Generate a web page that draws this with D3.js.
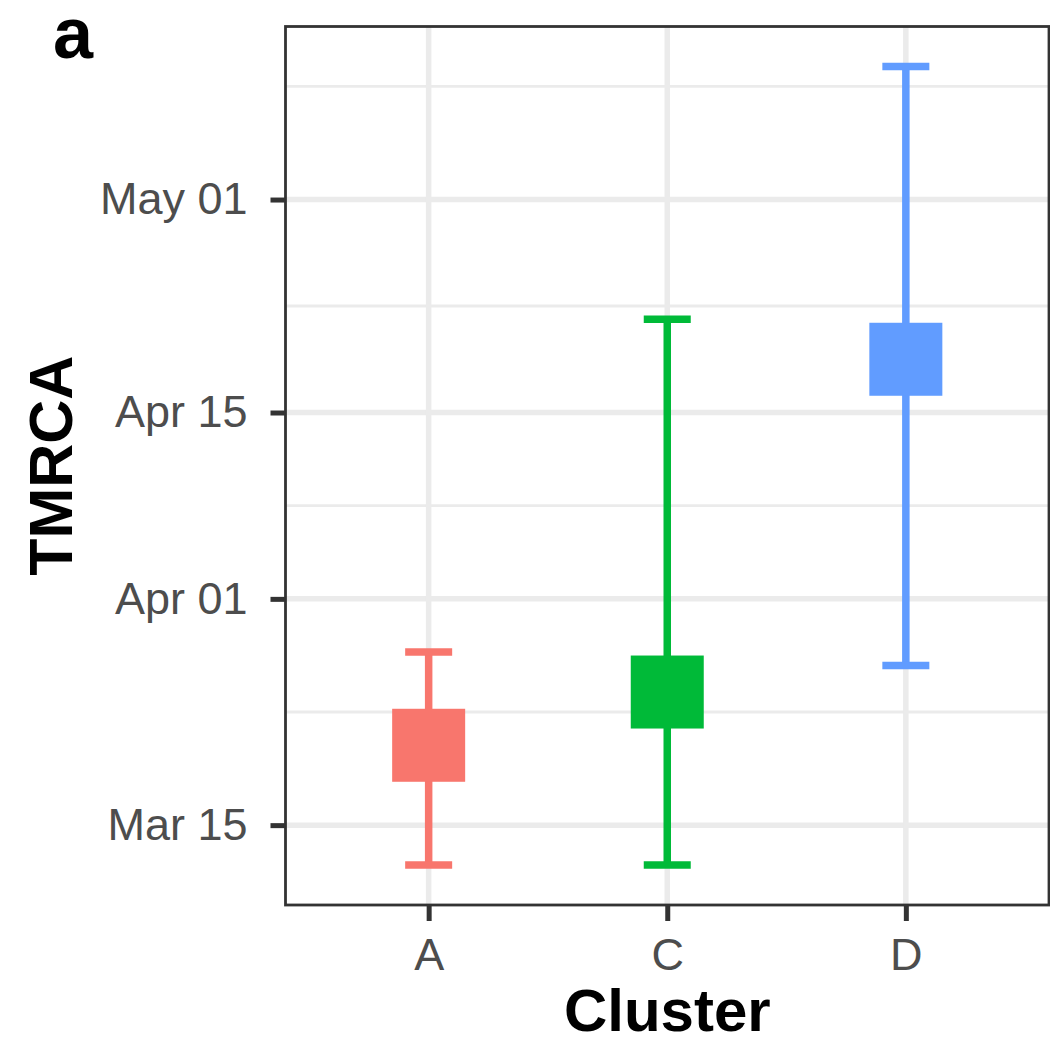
<!DOCTYPE html>
<html>
<head>
<meta charset="utf-8">
<script src="https://cdn.jsdelivr.net/npm/d3@7"></script>
<style>
  body { margin: 0; background: #fff; }
  text { font-family: "Liberation Sans", Arial, sans-serif; }
</style>
</head>
<body>
<div id="chart"></div>
<script>
var clusters = ['A', 'C', 'D'];
var medianDates = ['2020-03-21', '2020-03-25', '2020-04-19'];
var lowerDates = ['2020-03-12', '2020-03-12', '2020-03-27'];
var upperDates = ['2020-03-28', '2020-04-22', '2020-05-11'];
var clusterColors = ['#F8766D', '#00BA38', '#619CFF'];
var yTickLabels = ['2020-03-15', '2020-04-01', '2020-04-15', '2020-05-01'];
var yMinorBreaks = ['2020-03-23T12:00', '2020-04-08', '2020-04-23', '2020-05-09T12:00'];
var yLimits = ['2020-03-09', '2020-05-14'];

var parse = function(s) { return new Date(s + (s.length > 10 ? ':00Z' : 'T00:00Z')); };

var width = 1050, height = 1046;
var panel = { left: 285.5, top: 26.5, right: 1049, bottom: 905 };

var svg = d3.select('#chart').append('svg')
  .attr('width', width)
  .attr('height', height);

var xScale = d3.scalePoint()
  .domain(clusters)
  .range([panel.left, panel.right])
  .padding(0.6);

var yScale = d3.scaleUtc()
  .domain(yLimits.map(parse))
  .range([panel.bottom, panel.top]);

var data = clusters.map(function(c, i) {
  return {
    cluster: c,
    median: parse(medianDates[i]),
    lower: parse(lowerDates[i]),
    upper: parse(upperDates[i]),
    color: clusterColors[i]
  };
});

// grid
var grid = svg.append('g').attr('class', 'grid');
grid.selectAll('line.minor')
  .data(yMinorBreaks.map(parse))
  .enter().append('line')
  .attr('class', 'minor')
  .attr('x1', panel.left).attr('x2', panel.right)
  .attr('y1', function(d) { return yScale(d); })
  .attr('y2', function(d) { return yScale(d); })
  .attr('stroke', '#EBEBEB').attr('stroke-width', 2.8);
grid.selectAll('line.majorY')
  .data(yTickLabels.map(parse))
  .enter().append('line')
  .attr('class', 'majorY')
  .attr('x1', panel.left).attr('x2', panel.right)
  .attr('y1', function(d) { return yScale(d); })
  .attr('y2', function(d) { return yScale(d); })
  .attr('stroke', '#EBEBEB').attr('stroke-width', 5.5);
grid.selectAll('line.majorX')
  .data(clusters)
  .enter().append('line')
  .attr('class', 'majorX')
  .attr('y1', panel.top).attr('y2', panel.bottom)
  .attr('x1', function(d) { return xScale(d); })
  .attr('x2', function(d) { return xScale(d); })
  .attr('stroke', '#EBEBEB').attr('stroke-width', 5.5);

// error bars
var capHalf = 23.5, sq = 73, lw = 7.5;
var bars = svg.append('g').attr('class', 'errorbars')
  .selectAll('g')
  .data(data)
  .enter().append('g')
  .attr('stroke', function(d) { return d.color; })
  .attr('stroke-width', lw);

bars.append('line')
  .attr('x1', function(d) { return xScale(d.cluster); })
  .attr('x2', function(d) { return xScale(d.cluster); })
  .attr('y1', function(d) { return yScale(d.lower); })
  .attr('y2', function(d) { return yScale(d.upper); });
['lower', 'upper'].forEach(function(k) {
  bars.append('line')
    .attr('x1', function(d) { return xScale(d.cluster) - capHalf; })
    .attr('x2', function(d) { return xScale(d.cluster) + capHalf; })
    .attr('y1', function(d) { return yScale(d[k]); })
    .attr('y2', function(d) { return yScale(d[k]); });
});

// median squares
svg.append('g').attr('class', 'points')
  .selectAll('rect')
  .data(data)
  .enter().append('rect')
  .attr('x', function(d) { return xScale(d.cluster) - sq / 2; })
  .attr('y', function(d) { return yScale(d.median) - sq / 2; })
  .attr('width', sq).attr('height', sq)
  .attr('fill', function(d) { return d.color; });

// panel border
svg.append('rect')
  .attr('x', panel.left).attr('y', panel.top)
  .attr('width', panel.right - panel.left)
  .attr('height', panel.bottom - panel.top)
  .attr('fill', 'none')
  .attr('stroke', '#333333')
  .attr('stroke-width', 2.8);

// axes
var yAxis = d3.axisLeft(yScale)
  .tickValues(yTickLabels.map(parse))
  .tickFormat(d3.utcFormat('%b %d'))
  .tickSize(15)
  .tickPadding(23);
var xAxis = d3.axisBottom(xScale)
  .tickSize(16)
  .tickPadding(17);

var gy = svg.append('g')
  .attr('transform', 'translate(' + panel.left + ',0)')
  .call(yAxis);
var gx = svg.append('g')
  .attr('transform', 'translate(0,' + panel.bottom + ')')
  .call(xAxis);

[gx, gy].forEach(function(g) {
  g.select('.domain').remove();
  g.selectAll('.tick line').attr('stroke', '#333333').attr('stroke-width', 5);
  g.selectAll('.tick text')
    .attr('fill', '#4D4D4D')
    .style('font-size', '45px')
    .style('font-family', '"Liberation Sans", Arial, sans-serif');
});

// titles
svg.append('text')
  .attr('x', (panel.left + panel.right) / 2)
  .attr('y', 1031)
  .attr('text-anchor', 'middle')
  .style('font-size', '60px')
  .style('font-weight', 'bold')
  .text('Cluster');

svg.append('text')
  .attr('transform', 'translate(72,' + (panel.top + panel.bottom) / 2 + ') rotate(-90)')
  .attr('text-anchor', 'middle')
  .style('font-size', '61px')
  .style('font-weight', 'bold')
  .text('TMRCA');

svg.append('text')
  .attr('x', 53)
  .attr('y', 58)
  .style('font-size', '72px')
  .style('font-weight', 'bold')
  .text('a');
</script>
</body>
</html>
